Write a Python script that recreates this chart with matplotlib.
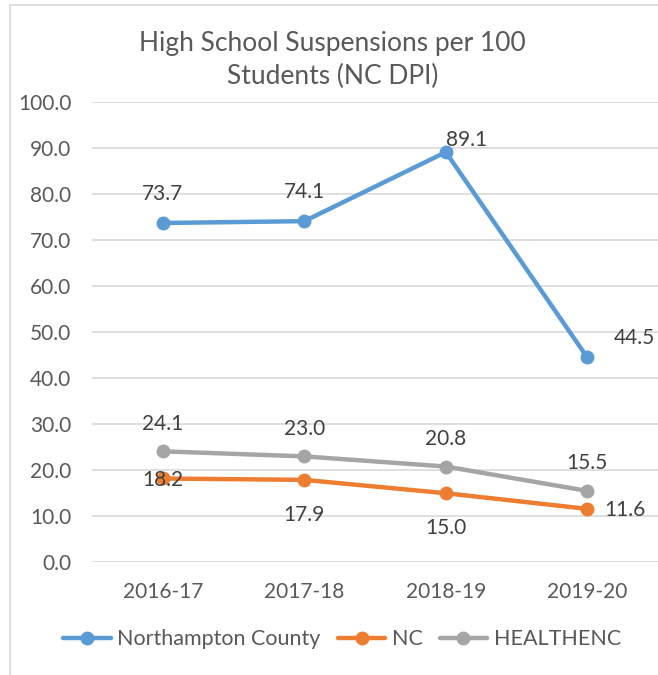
import matplotlib
matplotlib.use("Agg")
import matplotlib.pyplot as plt
from matplotlib.patches import Rectangle

categories = ["2016-17", "2017-18", "2018-19", "2019-20"]
northampton = [73.7, 74.1, 89.1, 44.5]
nc = [18.2, 17.9, 15.0, 11.6]
healthenc = [24.1, 23.0, 20.8, 15.5]
series_names = ["Northampton County", "NC", "HEALTHENC"]
yticks = [0, 10, 20, 30, 40, 50, 60, 70, 80, 90, 100]

plt.rcParams['font.family'] = ['Lato', 'DejaVu Sans']

fig = plt.figure(figsize=(6.58, 6.75), dpi=100)
ax = fig.add_axes([0.140, 0.167, 0.860, 0.682])

colors = ["#5B9BD5", "#ED7D31", "#A5A5A5"]
x = list(range(len(categories)))
data = [northampton, nc, healthenc]
lines = []
for vals, col, name in zip(data, colors, series_names):
    ln, = ax.plot(x, vals, color=col, lw=3.2, marker='o', markersize=9,
                  label=name, solid_capstyle='round', zorder=3)
    lines.append(ln)

# data labels offsets (points)
offs = {
    0: [(0, 21), (0, 21), (15, 9), (34, 14)],
    1: [(0, -1), (0, -25), (0, -25), (27, -1)],
    2: [(0, 20), (0, 20), (0, 20), (0, 20)],
}
for si, vals in enumerate(data):
    for i, v in enumerate(vals):
        dx, dy = offs[si][i]
        ax.annotate(f"{v:.1f}", (x[i], v), xytext=(dx, dy), textcoords='offset points',
                    ha='center', va='center', fontsize=15, color='#404040', zorder=4,
                    annotation_clip=False)

ax.set_xlim(-0.5, 3.5)
ax.set_ylim(0, 100)
ax.set_yticks(yticks)
ax.set_yticklabels([f"{t:.1f}" for t in yticks])
ax.set_xticks(x)
ax.set_xticklabels(categories)
ax.tick_params(axis='both', length=0, labelsize=15, colors='#595959')
ax.tick_params(axis='x', pad=14)
ax.tick_params(axis='y', pad=15)
ax.grid(axis='y', color='#D9D9D9', lw=1.2)
ax.set_axisbelow(True)
for s in ax.spines.values():
    s.set_visible(False)

fig.text(0.505, 0.911, "High School Suspensions per 100\nStudents (NC DPI)", ha='center',
         va='center', fontsize=19, color='#595959', linespacing=1.4)

fig.legend(handles=lines, loc='center', bbox_to_anchor=(0.52, 0.053), ncol=3, frameon=False,
           fontsize=15.5, handlelength=2.2, columnspacing=0.8, handletextpad=0.3,
           labelcolor='#595959')

fig.patches.append(Rectangle((10/658, -0.1), 1.2, (675-5)/675 + 0.1, transform=fig.transFigure,
                             fill=False, edgecolor='#D9D9D9', lw=1.2))

fig.savefig("out.png", dpi=100)
